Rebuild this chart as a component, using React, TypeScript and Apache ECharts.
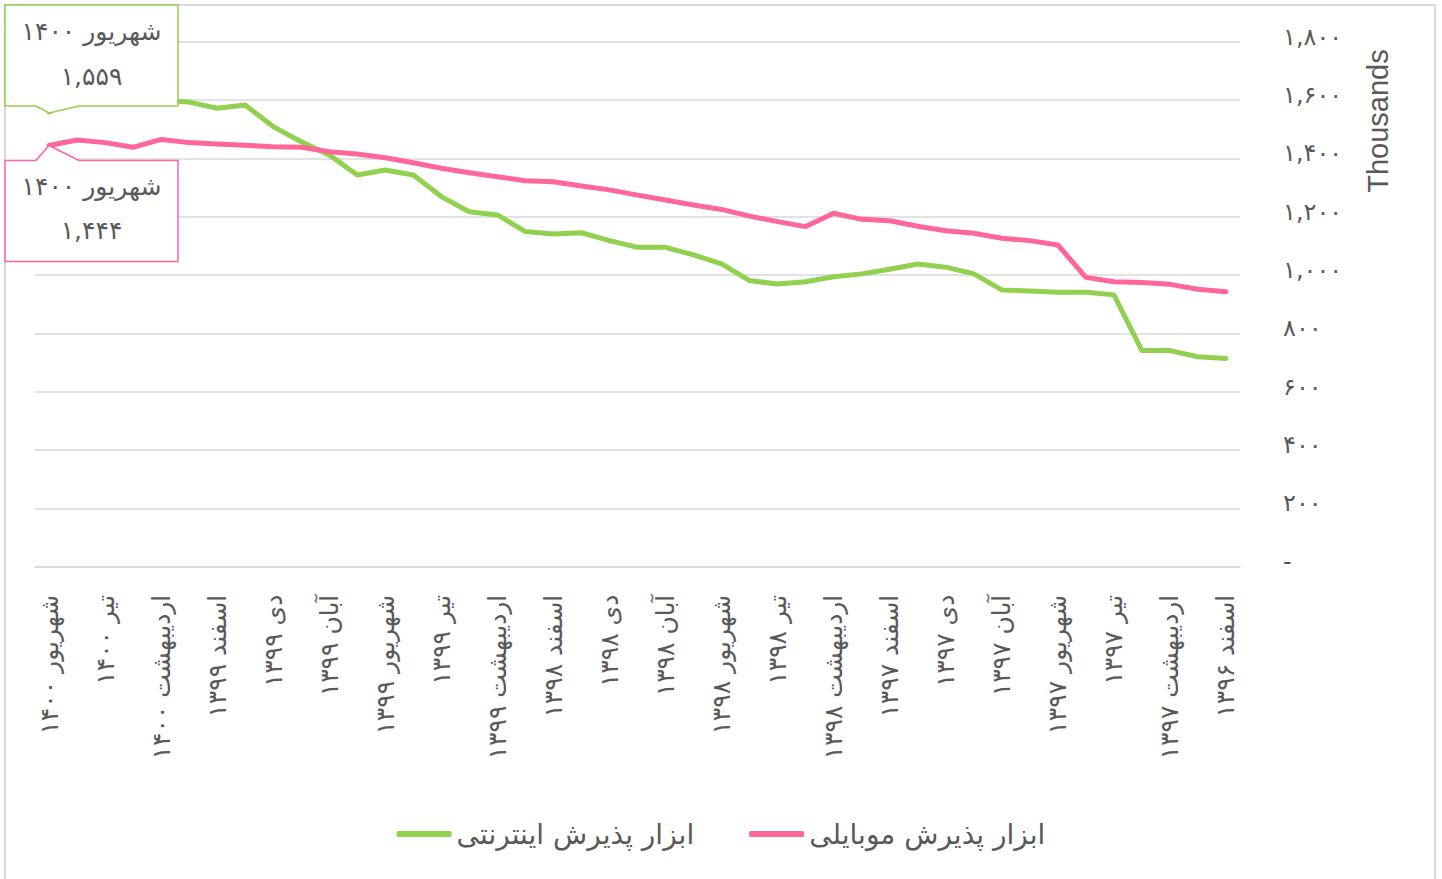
import React, { useEffect, useRef } from "react";
import * as echarts from "echarts";

const categories: string[] = [
  "شهریور ۱۴۰۰", "مرداد ۱۴۰۰", "تیر ۱۴۰۰", "خرداد ۱۴۰۰", "اردیبهشت ۱۴۰۰", "فروردین ۱۴۰۰",
  "اسفند ۱۳۹۹", "بهمن ۱۳۹۹", "دی ۱۳۹۹", "آذر ۱۳۹۹", "آبان ۱۳۹۹", "مهر ۱۳۹۹",
  "شهریور ۱۳۹۹", "مرداد ۱۳۹۹", "تیر ۱۳۹۹", "خرداد ۱۳۹۹", "اردیبهشت ۱۳۹۹", "فروردین ۱۳۹۹",
  "اسفند ۱۳۹۸", "بهمن ۱۳۹۸", "دی ۱۳۹۸", "آذر ۱۳۹۸", "آبان ۱۳۹۸", "مهر ۱۳۹۸",
  "شهریور ۱۳۹۸", "مرداد ۱۳۹۸", "تیر ۱۳۹۸", "خرداد ۱۳۹۸", "اردیبهشت ۱۳۹۸", "فروردین ۱۳۹۸",
  "اسفند ۱۳۹۷", "بهمن ۱۳۹۷", "دی ۱۳۹۷", "آذر ۱۳۹۷", "آبان ۱۳۹۷", "مهر ۱۳۹۷",
  "شهریور ۱۳۹۷", "مرداد ۱۳۹۷", "تیر ۱۳۹۷", "خرداد ۱۳۹۷", "اردیبهشت ۱۳۹۷", "فروردین ۱۳۹۷",
  "اسفند ۱۳۹۶",
];

// values in thousands
const internetValues: number[] = [
  1559, 1600, 1612, 1606, 1598, 1593, 1572, 1583, 1509, 1457, 1412, 1343,
  1360, 1343, 1269, 1217, 1206, 1149, 1141, 1145, 1118, 1095, 1095, 1069,
  1038, 981, 969, 977, 994, 1004, 1020, 1038, 1027, 1004, 949, 945,
  941, 941, 932, 741, 741, 720, 714,
];

const mobileValues: number[] = [
  1444, 1463, 1454, 1438, 1465, 1454, 1449, 1445, 1440, 1438, 1423, 1415,
  1402, 1385, 1366, 1351, 1337, 1323, 1320, 1305, 1292, 1274, 1257, 1240,
  1225, 1202, 1183, 1166, 1212, 1191, 1186, 1167, 1152, 1143, 1126, 1118,
  1103, 992, 977, 974, 968, 951, 943,
];

const seriesNames: string[] = ["ابزار پذیرش اینترنتی", "ابزار پذیرش موبایلی"];
const seriesColors: string[] = ["#92D050", "#FF6699"];
const axisUnit = "Thousands";

const FONT = "'DejaVu Sans', 'Noto Sans', sans-serif";
const TEXT_COLOR = "#595959";
const GRID_COLOR = "#d9d9d9";

const persianDigits = "۰۱۲۳۴۵۶۷۸۹";
const toPersian = (s: string) => s.replace(/[0-9]/g, (d) => persianDigits[Number(d)]);

export default function App() {
  const ref = useRef<HTMLDivElement>(null);

  useEffect(() => {
    if (!ref.current) return;
    const chart = echarts.init(ref.current, null, { renderer: "svg" });
    const option: any = {
      animation: false,
      backgroundColor: "#ffffff",
      grid: { left: 35, right: 202, top: 41.7, bottom: 312.3, containLabel: false },
      legend: {
        data: seriesNames,
        top: 815,
        left: "center",
        icon: "roundRect",
        itemWidth: 55,
        itemHeight: 6,
        itemGap: 55,
        textStyle: { fontSize: 28, color: TEXT_COLOR, fontFamily: FONT },
      },
      xAxis: {
        type: "category",
        data: categories,
        boundaryGap: true,
        axisLine: { show: true, lineStyle: { color: GRID_COLOR, width: 1.5 } },
        axisTick: { show: false },
        axisLabel: {
          interval: 1,
          rotate: 90,
          margin: 28,
          fontSize: 25,
          color: TEXT_COLOR,
          fontFamily: FONT,
        },
      },
      yAxis: {
        type: "value",
        position: "right",
        min: 0,
        max: 1800,
        interval: 200,
        axisLine: { show: false },
        axisTick: { show: false },
        splitLine: { lineStyle: { color: GRID_COLOR, width: 1.5 } },
        axisLabel: {
          margin: 43,
          fontSize: 24,
          color: TEXT_COLOR,
          fontFamily: FONT,
          formatter: (v: number) =>
            "{t|" + (v === 0 ? "-" : toPersian(v.toLocaleString("en-US"))) + "}",
          rich: {
            t: {
              fontSize: 24,
              color: TEXT_COLOR,
              fontFamily: FONT,
              padding: [0, 0, 10, 0],
            },
          },
        },
      },
      series: [
        {
          name: seriesNames[0],
          type: "line",
          data: internetValues,
          symbol: "none",
          lineStyle: { width: 5, color: seriesColors[0], cap: "round", join: "round" },
          itemStyle: { color: seriesColors[0] },
          z: 2,
        },
        {
          name: seriesNames[1],
          type: "line",
          data: mobileValues,
          symbol: "none",
          lineStyle: { width: 5, color: seriesColors[1], cap: "round", join: "round" },
          itemStyle: { color: seriesColors[1] },
          z: 3,
        },
      ],
    };
    chart.setOption(option);

    const g = chart.convertToPixel({ seriesIndex: 0 }, [0, internetValues[0]]) as number[];
    const p = chart.convertToPixel({ seriesIndex: 1 }, [0, mobileValues[0]]) as number[];
    const boxL = 5;
    const boxR = 178;
    const boxH = 101;
    const cx = (boxL + boxR) / 2;

    const gBottom = g[1] - 6;
    const gTop = gBottom - boxH;
    const pTop = p[1] + 15;
    const pBottom = pTop + boxH;

    const calloutText = (id: string, y: number, text: string) => ({
      id,
      type: "text",
      x: cx,
      y,
      z: 20,
      style: {
        text,
        fill: TEXT_COLOR,
        fontSize: 25,
        fontFamily: FONT,
        align: "center",
        verticalAlign: "middle",
      },
    });

    chart.setOption({
      graphic: [
        {
          id: "frame",
          type: "rect",
          silent: true,
          z: -10,
          shape: { x: 5, y: 5, width: 1430, height: 900 },
          style: { fill: "none", stroke: GRID_COLOR, lineWidth: 2 },
        },
        {
          id: "gCallout",
          type: "polygon",
          z: 15,
          shape: {
            points: [
              [boxL, gTop],
              [boxR, gTop],
              [boxR, gBottom],
              [g[0] + 30, gBottom],
              [g[0], g[1] + 1],
              [g[0] - 13, gBottom],
              [boxL, gBottom],
            ],
          },
          style: { fill: "#ffffff", stroke: seriesColors[0], lineWidth: 1.5 },
        },
        calloutText("gT1", gTop + 27, categories[0]),
        calloutText("gT2", gTop + 72, toPersian(internetValues[0].toLocaleString("en-US"))),
        {
          id: "pCallout",
          type: "polygon",
          z: 15,
          shape: {
            points: [
              [boxL, pTop],
              [p[0] - 13, pTop],
              [p[0], p[1]],
              [p[0] + 30, pTop],
              [boxR, pTop],
              [boxR, pBottom],
              [boxL, pBottom],
            ],
          },
          style: { fill: "#ffffff", stroke: seriesColors[1], lineWidth: 1.5 },
        },
        calloutText("pT1", pTop + 26, categories[0]),
        calloutText("pT2", pTop + 70, toPersian(mobileValues[0].toLocaleString("en-US"))),
        {
          id: "unit",
          type: "text",
          x: 1378,
          y: 121,
          rotation: Math.PI / 2,
          z: 20,
          style: {
            text: axisUnit,
            fill: TEXT_COLOR,
            fontSize: 29,
            fontFamily: "'Liberation Sans', Arial, sans-serif",
            align: "center",
            verticalAlign: "middle",
          },
        },
      ],
    });

    return () => {
      chart.dispose();
    };
  }, []);

  return (
    <div
      ref={ref}
      style={{ position: "fixed", left: 0, top: 0, width: 1442, height: 879, background: "#fff" }}
    />
  );
}
